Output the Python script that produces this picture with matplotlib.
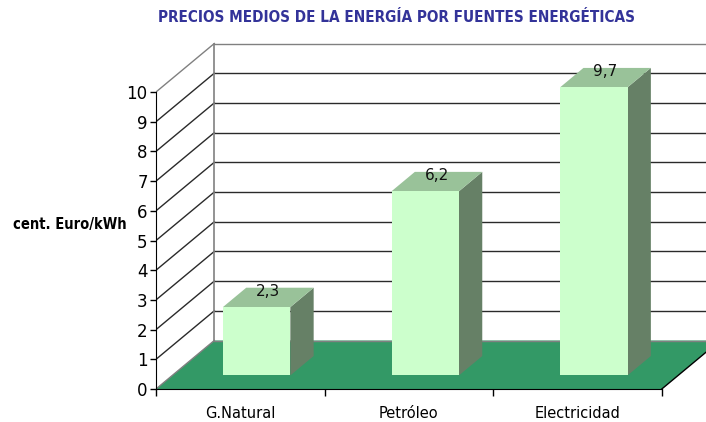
import matplotlib
matplotlib.use("Agg")
import matplotlib.pyplot as plt
from matplotlib.patches import Polygon
from matplotlib import font_manager
from matplotlib.font_manager import FontProperties

categories = ["G.Natural", "Petróleo", "Electricidad"]
values = [2.3, 6.2, 9.7]
value_labels = ["2,3", "6,2", "9,7"]
yticks = list(range(0, 11))

title = "PRECIOS MEDIOS DE LA ENERGÍA POR FUENTES ENERGÉTICAS"
ylabel = "cent. Euro/kWh"


def find_condensed(bold):
    """Pick a condensed/narrow sans face if one is installed."""
    best = None
    for f in font_manager.fontManager.ttflist:
        name = f.name.lower()
        fn = f.fname.lower()
        cond = (str(f.stretch) in ("condensed", "semi-condensed", "extra-condensed")
                or "condensed" in fn or "narrow" in fn or "narrow" in name)
        if not cond or "mono" in fn or "serif" in fn and "sans" not in fn:
            continue
        w = f.weight if isinstance(f.weight, int) else (700 if "bold" in str(f.weight) else 400)
        isbold = w >= 600
        if isbold != bold or "italic" in fn or "oblique" in fn or f.style != "normal":
            continue
        score = 0 if "dejavu" in fn else (1 if "liberation" in fn else 2)
        if best is None or score < best[0]:
            best = (score, f.fname)
    return FontProperties(fname=best[1]) if best else None


fp_bold = find_condensed(True)
fam = ["DejaVu Sans"]

W, H = 706, 422
fig = plt.figure(figsize=(W / 100, H / 100), dpi=100)

# axes: x in category units (front edge 0..3), y in value units
px_cat = 168.6
px_val = 29.7
left_px, bottom_px, top_px = 156, 389, 30
ax = fig.add_axes([left_px / W, (H - bottom_px) / H, (W - left_px) / W, (bottom_px - top_px) / H])
ax.set_xlim(0, (W - left_px) / px_cat)
ax.set_ylim(0, (bottom_px - top_px) / px_val)
ax.set_facecolor("none")

# oblique depth offset in data units
DX = 58.3 / px_cat
DY = 48.5 / px_val
ncat = len(categories)
ymax = 10

grid_c = "#2a2a2a"
wall_c = "#808080"

# back wall gridlines and left wall diagonals
for v in yticks[1:]:
    c = wall_c if v == ymax else grid_c
    ax.plot([DX, 10], [v + DY, v + DY], color=c, lw=1, zorder=1)
    ax.plot([0, DX], [v, v + DY], color=c, lw=1, zorder=1)
ax.plot([DX, DX], [DY, ymax + DY], color=wall_c, lw=1.2, zorder=1)

# floor
floor = Polygon([(0, 0), (ncat, 0), (ncat + DX, DY), (10, DY), (DX, DY)],
                closed=True, facecolor="#339966", edgecolor="none", zorder=2)
ax.add_patch(floor)
ax.plot([DX, 10], [DY, DY], color=wall_c, lw=1, zorder=2.1)
ax.plot([0, DX], [0, DY], color=wall_c, lw=1, zorder=2.1)
ax.plot([ncat, ncat + DX], [0, DY], color="black", lw=1, zorder=2.1)

# bars
bw = 0.40
d0, d1 = 0.28, 0.68
front_c, top_c, side_c = "#CCFFCC", "#99C299", "#668066"
for i, (v, lab) in enumerate(zip(values, value_labels)):
    x0 = i + 0.5 - bw / 2 + d0 * DX
    x1 = x0 + bw
    y0 = d0 * DY
    y1 = y0 + v
    ox = (d1 - d0) * DX
    oy = (d1 - d0) * DY
    ax.add_patch(Polygon([(x1, y0), (x1 + ox, y0 + oy), (x1 + ox, y1 + oy), (x1, y1)],
                         closed=True, facecolor=side_c, edgecolor="none", zorder=3))
    ax.add_patch(Polygon([(x0, y1), (x1, y1), (x1 + ox, y1 + oy), (x0 + ox, y1 + oy)],
                         closed=True, facecolor=top_c, edgecolor="none", zorder=3))
    ax.add_patch(Polygon([(x0, y0), (x1, y0), (x1, y1), (x0, y1)],
                         closed=True, facecolor=front_c, edgecolor="none", zorder=4))
    ax.text((x0 + x1) / 2 + ox / 2, y1 + oy / 2 + 0.05, lab, ha="center", va="baseline",
            fontsize=11, color="#111111", zorder=5, family=fam)

# axes lines and ticks
for s in ["top", "right"]:
    ax.spines[s].set_visible(False)
ax.spines["left"].set_bounds(0, ymax)
ax.spines["bottom"].set_bounds(0, ncat)
ax.spines["left"].set_zorder(6)
ax.spines["bottom"].set_zorder(6)
ax.set_yticks(yticks)
ax.set_yticklabels([str(t) for t in yticks], family=fam, fontsize=12)
ax.set_xticks(range(ncat + 1))
ax.set_xticklabels([""] * (ncat + 1))
ax.set_xticks([i + 0.5 for i in range(ncat)], minor=True)
ax.set_xticklabels(categories, minor=True, family=fam, fontsize=10.5)
ax.tick_params(axis="y", length=4, width=1, pad=2, colors="black")
ax.tick_params(axis="x", which="major", length=5, width=1)
ax.tick_params(axis="x", which="minor", length=0, pad=12)

if fp_bold is not None:
    tkw = dict(fontproperties=fp_bold, fontsize=11)
    lkw = dict(fontproperties=fp_bold, fontsize=10.5)
else:
    tkw = dict(family=fam, fontweight="bold", fontsize=10)
    lkw = dict(family=fam, fontweight="bold", fontsize=10)
fig.text(396 / W, 1 - 18 / H, title, ha="center", va="center", color="#333399", **tkw)
fig.text(70 / W, 1 - 225 / H, ylabel, ha="center", va="center", color="black", **lkw)

fig.savefig("out.png", dpi=100)
